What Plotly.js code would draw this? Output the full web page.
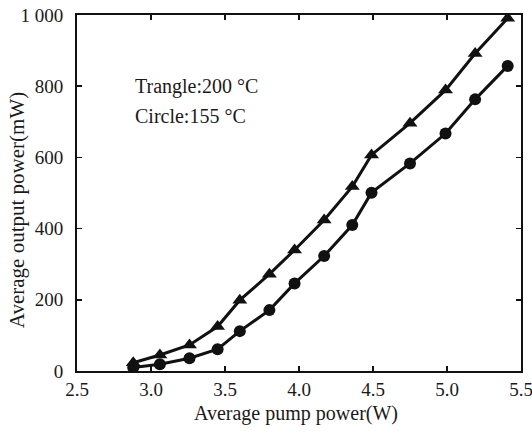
<!DOCTYPE html>
<html>
<head>
<meta charset="utf-8">
<script src="https://cdn.plot.ly/plotly-3.0.1.min.js"></script>
<style>html,body{margin:0;padding:0;background:#fff;}#chart{width:532px;height:433px;}</style>
</head>
<body>
<div id="chart"></div>
<script>
const pumpPower = [2.88, 3.06, 3.26, 3.45, 3.60, 3.80, 3.97, 4.17, 4.36, 4.49, 4.75, 4.99, 5.19, 5.41];
const outputTriangle200 = [23, 45, 73, 125, 199, 272, 340, 424, 518, 607, 696, 789, 892, 991];
const outputCircle155 = [10, 19, 36, 61, 112, 171, 246, 323, 410, 501, 583, 667, 763, 857];
const xTickVals = [2.5, 3.0, 3.5, 4.0, 4.5, 5.0, 5.5];
const xTickText = ["2.5", "3.0", "3.5", "4.0", "4.5", "5.0", "5.5"];
const yTickVals = [0, 200, 400, 600, 800, 1000];
const yTickText = ["0", "200", "400", "600", "800", "1 000"];
const xTitle = "Average pump power(W)";
const yTitle = "Average output power(mW)";
const labelLines = ["Trangle:200 °C", "Circle:155 °C"];

const fam = "Liberation Serif, Times New Roman, serif";
const txtColor = "#1a1a1a";
const tickFont = {family: fam, color: txtColor, size: 19};

const traces = [
  {x: pumpPower, y: outputTriangle200, mode: "lines+markers", name: "200 °C",
   line: {color: "#111", width: 3}, marker: {symbol: "triangle-up", size: 13, color: "#111"}},
  {x: pumpPower, y: outputCircle155, mode: "lines+markers", name: "155 °C",
   line: {color: "#111", width: 3}, marker: {symbol: "circle", size: 12, color: "#111"}}
];

const layout = {
  width: 532, height: 433,
  margin: {l: 77, r: 11, t: 15, b: 62},
  paper_bgcolor: "#fff", plot_bgcolor: "#fff",
  showlegend: false,
  font: tickFont,
  xaxis: {range: [2.5, 5.5], tickvals: xTickVals, ticktext: xTickText,
    ticks: "inside", ticklen: 5, tickwidth: 1.5, tickcolor: "#111",
    showline: true, linecolor: "#111", linewidth: 2, mirror: "ticks",
    showgrid: false, zeroline: false, tickfont: tickFont, ticklabelstandoff: 0,
    ticklabeloverflow: "allow"},
  yaxis: {range: [0, 1000], tickvals: yTickVals, ticktext: yTickText,
    ticks: "inside", ticklen: 5, tickwidth: 1.5, tickcolor: "#111",
    showline: true, linecolor: "#111", linewidth: 2, mirror: "ticks",
    showgrid: false, zeroline: false, tickfont: tickFont, ticklabelstandoff: 8,
    ticklabeloverflow: "allow"},
  annotations: [
    {xref: "paper", yref: "paper", x: 0.493, y: -0.12, xanchor: "center", yanchor: "middle",
     text: xTitle, showarrow: false, font: {family: fam, color: txtColor, size: 20}},
    {xref: "paper", yref: "paper", x: -0.135, y: 0.452, xanchor: "center", yanchor: "middle",
     text: yTitle, showarrow: false, textangle: -90, font: {family: fam, color: txtColor, size: 21}},
    {xref: "paper", yref: "paper", x: 0.126, y: 0.798, xanchor: "left", yanchor: "middle",
     text: labelLines[0], showarrow: false, font: {family: fam, color: txtColor, size: 20}},
    {xref: "paper", yref: "paper", x: 0.126, y: 0.716, xanchor: "left", yanchor: "middle",
     text: labelLines[1], showarrow: false, font: {family: fam, color: txtColor, size: 20}}
  ]
};

Plotly.newPlot("chart", traces, layout, {displayModeBar: false, staticPlot: true});
</script>
</body>
</html>
